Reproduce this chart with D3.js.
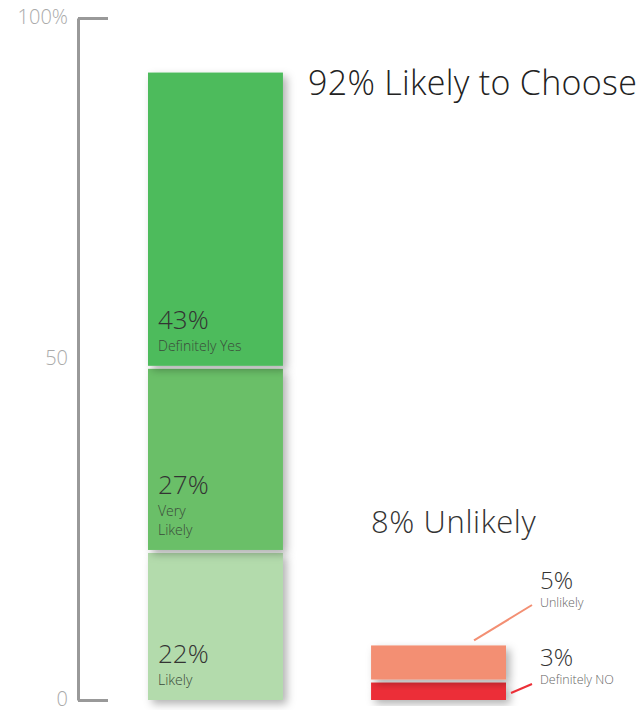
<!DOCTYPE html>
<html>
<head>
<meta charset="utf-8">
<script src="https://cdn.jsdelivr.net/npm/d3@7"></script>
<style>
  body { margin: 0; background: #fff; }
  svg { font-family: "Open Sans", Lato, sans-serif; font-weight: 300; }
</style>
</head>
<body>
<svg width="638" height="710"></svg>
<script>
// data
var likelyNames = ["Likely", "Very Likely", "Definitely Yes"];
var likelyValues = [22, 27, 43];
var likelyColors = ["#b3dbac", "#6abf68", "#4dbb5c"];
var likelyLines = [["Likely"], ["Very", "Likely"], ["Definitely Yes"]];

var unlikelyNames = ["Definitely NO", "Unlikely"];
var unlikelyValues = [3, 5];
var unlikelyColors = ["#ec2f37", "#f38f73"];

var tickValues = [0, 50, 100];
var tickLabels = ["0", "50", "100%"];

var svg = d3.select("svg");

// y scale: 0 at bottom, 100 at top
var y = d3.scaleLinear().domain([0, 100]).range([700, 18]);
var x = d3.scaleBand().domain(["likely", "unlikely"]).range([148, 506]).paddingInner(0.395);

// shadow
var defs = svg.append("defs");
var f = defs.append("filter").attr("id", "shadow")
  .attr("x", "-20%").attr("y", "-20%").attr("width", "150%").attr("height", "150%");
f.append("feDropShadow").attr("dx", 4).attr("dy", 4).attr("stdDeviation", 4)
  .attr("flood-color", "#000").attr("flood-opacity", 0.3);

// stack helper
function stackUp(vals) {
  var acc = 0;
  return vals.map(function(v) { var s = acc; acc += v; return [s, acc]; });
}
var gap = 3;

var likelyStack = stackUp(likelyValues);
var gL = svg.append("g");
gL.selectAll("rect")
  .data(likelyStack)
  .enter()
  .append("rect")
  .attr("x", x("likely"))
  .attr("width", x.bandwidth())
  .attr("y", function(d, i) { return y(d[1]) + (i < likelyStack.length - 1 ? gap : 0); })
  .attr("height", function(d, i) { return y(d[0]) - y(d[1]) - (i < likelyStack.length - 1 ? gap : 0); })
  .attr("fill", function(d, i) { return likelyColors[i]; })
  .attr("filter", "url(#shadow)");

// labels inside green bars
likelyStack.forEach(function(d, i) {
  var lines = likelyLines[i];
  var base = y(d[0]) - 15 - 22 - 19 * (lines.length - 1);
  gL.append("text")
    .attr("x", x("likely") + 10)
    .attr("y", base)
    .text(likelyValues[i] + "%")
    .style("font-size", "26px")
    .style("fill", "#333");
  lines.forEach(function(t, j) {
    gL.append("text")
      .attr("x", x("likely") + 10)
      .attr("y", base + 22 + 19 * j)
      .text(t)
      .style("font-size", "14px")
      .style("fill", "#3a4a3a");
  });
});

var unlikelyStack = stackUp(unlikelyValues);
var gU = svg.append("g");
gU.selectAll("rect")
  .data(unlikelyStack)
  .enter()
  .append("rect")
  .attr("x", x("unlikely"))
  .attr("width", x.bandwidth())
  .attr("y", function(d, i) { return y(d[1]) + (i == 1 ? 0 : gap); })
  .attr("height", function(d, i) { return y(d[0]) - y(d[1]) - (i == 1 ? 0 : gap); })
  .attr("fill", function(d, i) { return unlikelyColors[i]; })
  .attr("filter", "url(#shadow)");

// leader lines + labels on the right
var xr = x("unlikely") + x.bandwidth();
var labelPos = [
  { lx1: xr + 5, ly1: y(unlikelyStack[0][0]) - 7, lx2: xr + 26, ly2: y(unlikelyStack[0][0]) - 16, ty: 666 },
  { lx1: x("unlikely") + 103, ly1: y(unlikelyStack[1][1]) - 5, lx2: xr + 26, ly2: 605, ty: 589 }
];
unlikelyStack.forEach(function(d, i) {
  var p = labelPos[i];
  gU.append("line")
    .attr("x1", p.lx1).attr("y1", p.ly1)
    .attr("x2", p.lx2).attr("y2", p.ly2)
    .attr("stroke", unlikelyColors[i])
    .attr("stroke-width", 2);
  gU.append("text")
    .attr("x", xr + 34)
    .attr("y", p.ty)
    .text(unlikelyValues[i] + "%")
    .style("font-size", "24px")
    .style("fill", "#333");
  gU.append("text")
    .attr("x", xr + 34)
    .attr("y", p.ty + 18)
    .text(unlikelyNames[i])
    .style("font-size", "12.5px")
    .style("fill", "#666");
});

// headline texts
svg.append("text")
  .attr("x", 308)
  .attr("y", 95)
  .text(d3.sum(likelyValues) + "% Likely to Choose")
  .style("font-size", "34px")
  .style("letter-spacing", "0.3px")
  .style("fill", "#222");

svg.append("text")
  .attr("x", x("unlikely"))
  .attr("y", 533)
  .text(d3.sum(unlikelyValues) + "% Unlikely")
  .style("font-size", "31px")
  .style("letter-spacing", "0.6px")
  .style("fill", "#333");

// axis: labels on the left, tick lines pointing inward
var axisL = svg.append("g")
  .attr("transform", "translate(78,0)")
  .call(d3.axisLeft(y).tickValues(tickValues).tickSize(0).tickPadding(10)
    .tickFormat(function(d, i) { return tickLabels[i]; }));
axisL.select(".domain").attr("stroke", "#999").attr("stroke-width", 3);
axisL.selectAll("text")
  .attr("dy", "0.25em")
  .style("font-size", "20px")
  .style("font-family", "\"Open Sans\", sans-serif")
  .style("font-weight", 300)
  .style("fill", "#aaa");

var axisR = svg.append("g")
  .attr("transform", "translate(78,0)")
  .call(d3.axisRight(y).tickValues([0, 100]).tickSize(30).tickFormat(""));
axisR.select(".domain").remove();
axisR.selectAll("line").attr("stroke", "#999").attr("stroke-width", 3);
</script>
</body>
</html>
